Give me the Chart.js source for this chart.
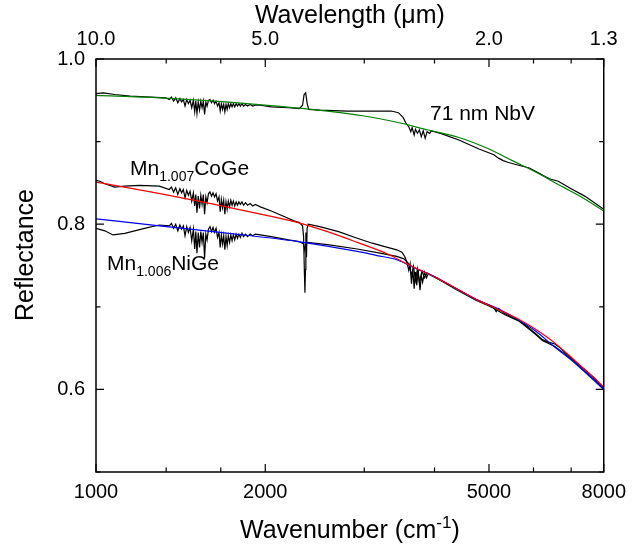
<!DOCTYPE html>
<html>
<head>
<meta charset="utf-8">
<script src="https://cdn.jsdelivr.net/npm/chart.js@4.4.1/dist/chart.umd.min.js"></script>
<style>
  body { margin: 0; background: #fff; }
  #wrap { width: 634px; height: 550px; }
</style>
</head>
<body>
<div id="wrap"><canvas id="chart"></canvas></div>
<script>
const FONT = '"Liberation Sans", Arial, sans-serif';

// axis ticks (wavenumber, cm-1) and reflectance ticks
const wnMajor = [1000, 2000, 5000, 8000];
const wnMinor = [1333, 1667, 3000, 4000, 6000, 7000];
const rMajor = [0.6, 0.8, 1.0];
const rMinor = [0.5, 0.7, 0.9];

// absorption band region shared by the three spectra
const noiseWn = [1350, 1362, 1374, 1386, 1398, 1410, 1420, 1430, 1440, 1450,
  1460, 1470, 1480, 1490, 1498, 1505, 1512, 1520, 1528, 1536,
  1544, 1552, 1560, 1568, 1576, 1585, 1595, 1605, 1615, 1625,
  1635, 1645, 1655, 1663, 1671, 1679, 1687, 1695, 1703, 1711,
  1719, 1728, 1737, 1746, 1755, 1765, 1775, 1785, 1795, 1806,
  1818, 1830, 1845, 1860, 1880, 1900, 1920, 1960];

// 71 nm NbV film: measured spectrum and fit
const nbvHeadWn = [1000, 1030, 1080, 1150, 1250, 1330];
const nbvHeadR = [0.958, 0.959, 0.957, 0.955, 0.954, 0.953];
const nbvNoiseR = [0.951, 0.954, 0.949, 0.953, 0.947, 0.952, 0.948, 0.951, 0.943, 0.951,
  0.946, 0.950, 0.941, 0.950, 0.936, 0.949, 0.934, 0.948, 0.938, 0.949,
  0.941, 0.949, 0.933, 0.948, 0.943, 0.950, 0.951, 0.947, 0.950, 0.946,
  0.949, 0.943, 0.947, 0.937, 0.946, 0.939, 0.945, 0.936, 0.945, 0.939,
  0.946, 0.941, 0.946, 0.942, 0.946, 0.942, 0.946, 0.943, 0.946, 0.943,
  0.946, 0.943, 0.945, 0.943, 0.945, 0.943, 0.944, 0.944];
const nbvTailWn = [2050, 2200, 2300, 2330, 2345, 2360, 2375, 2390,
  2500, 2800, 3100, 3350, 3450, 3520, 3560, 3600,
  3630, 3650, 3680, 3700, 3730, 3760, 3790, 3820, 3850, 3880,
  3920, 3950, 4100, 4420, 4800, 5100, 5200, 5300, 5400, 5600,
  5900, 6130, 6400, 6640, 7000, 7400, 7700, 8000];
const nbvTailR = [0.942, 0.941, 0.940, 0.944, 0.957, 0.959, 0.946, 0.939,
  0.938, 0.937, 0.937, 0.937, 0.935, 0.929, 0.922, 0.918,
  0.912, 0.917, 0.908, 0.915, 0.910, 0.914, 0.906, 0.913, 0.904, 0.912,
  0.910, 0.913, 0.910, 0.902, 0.891, 0.884, 0.880, 0.877, 0.875, 0.872,
  0.868, 0.862, 0.855, 0.852, 0.843, 0.834, 0.826, 0.818];
const nbvFitWn = [1000, 1300, 1700, 2100, 2580, 3000, 3400, 3900, 4420, 5000, 5500, 6100, 6640, 7300, 8000];
const nbvFitR = [0.956, 0.953, 0.948, 0.943, 0.937, 0.931, 0.924, 0.914, 0.905, 0.891, 0.877, 0.862, 0.848, 0.833, 0.816];

// Mn1.007CoGe: measured spectrum and fit
const cogeHeadWn = [1000, 1016, 1037, 1080, 1125, 1195, 1296];
const cogeHeadR = [0.853, 0.852, 0.849, 0.845, 0.846, 0.847, 0.846];
const cogeNoiseR = [0.842, 0.845, 0.839, 0.844, 0.836, 0.843, 0.838, 0.842, 0.832, 0.841,
  0.835, 0.840, 0.828, 0.838, 0.822, 0.836, 0.814, 0.834, 0.819, 0.835,
  0.824, 0.836, 0.812, 0.833, 0.826, 0.837, 0.839, 0.834, 0.838, 0.833,
  0.837, 0.828, 0.833, 0.815, 0.830, 0.820, 0.829, 0.812, 0.827, 0.818,
  0.828, 0.821, 0.829, 0.823, 0.828, 0.822, 0.827, 0.823, 0.827, 0.824,
  0.827, 0.823, 0.826, 0.823, 0.825, 0.822, 0.824, 0.821];
const cogeTailWn = [2050, 2150, 2250, 2300, 2330, 2340, 2348, 2353, 2358, 2362,
  2368, 2374, 2385, 2500, 2700, 2915, 3100, 3300, 3427, 3500,
  3540, 3570, 3600, 3620, 3640, 3660, 3680, 3700, 3720, 3740,
  3770, 3790, 3810, 3840, 3870, 3900, 3950, 4030, 4370, 4738,
  5000, 5100, 5150, 5200, 5300, 5400, 5647, 5800, 6041, 6230,
  6400, 6550, 6700, 6821, 7100, 7400, 7700, 8000];
const cogeTailR = [0.816, 0.810, 0.804, 0.802, 0.798, 0.785, 0.740, 0.717, 0.745, 0.790,
  0.760, 0.795, 0.800, 0.797, 0.791, 0.783, 0.777, 0.772, 0.769, 0.766,
  0.761, 0.755, 0.744, 0.752, 0.728, 0.746, 0.722, 0.742, 0.726, 0.745,
  0.720, 0.738, 0.730, 0.742, 0.735, 0.740, 0.738, 0.735, 0.722, 0.709,
  0.702, 0.699, 0.694, 0.698, 0.693, 0.690, 0.683, 0.678, 0.668, 0.660,
  0.657, 0.655, 0.650, 0.645, 0.634, 0.624, 0.614, 0.602];
const cogeFitWn = [1000, 1300, 1600, 2000, 2286, 2580, 2915, 3300, 3570, 4030, 4370, 4738, 5138, 5647, 6041, 6550, 7103, 8000];
const cogeFitR = [0.851, 0.837, 0.825, 0.811, 0.802, 0.791, 0.778, 0.764, 0.752, 0.735, 0.722, 0.709, 0.698, 0.685, 0.673, 0.656, 0.635, 0.603];

// Mn1.006NiGe: measured spectrum and fit
const nigeHeadWn = [1000, 1037, 1072, 1125, 1220, 1296];
const nigeHeadR = [0.795, 0.792, 0.787, 0.789, 0.795, 0.799];
const nigeNoiseR = [0.798, 0.801, 0.795, 0.800, 0.792, 0.799, 0.794, 0.798, 0.786, 0.797,
  0.790, 0.796, 0.780, 0.794, 0.770, 0.791, 0.765, 0.790, 0.772, 0.791,
  0.778, 0.790, 0.759, 0.788, 0.781, 0.794, 0.797, 0.791, 0.796, 0.790,
  0.795, 0.784, 0.790, 0.772, 0.787, 0.776, 0.786, 0.769, 0.785, 0.774,
  0.786, 0.778, 0.787, 0.780, 0.787, 0.781, 0.788, 0.783, 0.788, 0.784,
  0.789, 0.785, 0.788, 0.785, 0.788, 0.786, 0.788, 0.787];
const nigeTailWn = [2050, 2200, 2300, 2340, 2352, 2360, 2380,
  2600, 2915, 3200, 3427, 3530, 3600,
  3640, 3670, 3700, 3730, 3760, 3800, 3840, 3880, 3950, 4030,
  4370, 4738, 5000, 5138, 5250, 5350, 5647,
  6041, 6230, 6550, 6821, 7100, 7400, 7700, 8000];
const nigeTailR = [0.785, 0.781, 0.779, 0.776, 0.768, 0.776, 0.778,
  0.775, 0.770, 0.765, 0.761, 0.758, 0.752,
  0.738, 0.749, 0.732, 0.746, 0.730, 0.743, 0.735, 0.741, 0.738, 0.735,
  0.721, 0.708, 0.701, 0.697, 0.693, 0.690, 0.683,
  0.667, 0.659, 0.652, 0.643, 0.633, 0.622, 0.612, 0.600];
const nigeFitWn = [1000, 1296, 1721, 2286, 2915, 3161, 3427, 3716, 4030, 4370, 4738, 5138, 5647, 6041, 6550, 7103, 8000];
const nigeFitR = [0.8065, 0.798, 0.789, 0.779, 0.767, 0.762, 0.757, 0.746, 0.7355, 0.722, 0.709, 0.699, 0.684, 0.671, 0.651, 0.632, 0.600];

const pts = (xs, ys) => xs.map((x, i) => ({ x: x, y: ys[i] }));

function dataLine(xs, ys) {
  return { data: pts(xs, ys), borderColor: '#000', borderWidth: 1.2, order: 2 };
}
function fitLine(xs, ys, color) {
  return { data: pts(xs, ys), borderColor: color, borderWidth: 1.2, cubicInterpolationMode: 'monotone', order: 1 };
}

// text with sub/superscript pieces: parts = [[text, 'sub'|'sup'|null], ...]
function richText(ctx, parts, x, y, size, align) {
  const small = Math.round(size * 0.68);
  const widths = parts.map(([t, k]) => {
    ctx.font = (k ? small : size) + 'px ' + FONT;
    return ctx.measureText(t).width;
  });
  const total = widths.reduce((a, b) => a + b, 0);
  let cx = align === 'center' ? x - total / 2 : x;
  ctx.textAlign = 'left';
  ctx.textBaseline = 'alphabetic';
  parts.forEach(([t, k], i) => {
    ctx.font = (k ? small : size) + 'px ' + FONT;
    const dy = k === 'sub' ? size * 0.3 : k === 'sup' ? -size * 0.42 : 0;
    ctx.fillText(t, cx, y + dy);
    cx += widths[i];
  });
}

const frame = {
  id: 'frame',
  afterDraw(chart) {
    const { ctx, chartArea: a, scales } = chart;
    ctx.save();
    ctx.strokeStyle = '#000';
    ctx.lineWidth = 1.5;
    ctx.strokeRect(a.left, a.top, a.right - a.left, a.bottom - a.top);

    ctx.lineWidth = 1.2;
    ctx.beginPath();
    const xt = wnMajor.map(v => [v, 8]).concat(wnMinor.map(v => [v, 4.5]));
    xt.forEach(([v, len]) => {
      const px = scales.x.getPixelForValue(v);
      ctx.moveTo(px, a.bottom); ctx.lineTo(px, a.bottom - len);
      ctx.moveTo(px, a.top); ctx.lineTo(px, a.top + len);
    });
    const yt = rMajor.map(v => [v, 8]).concat(rMinor.map(v => [v, 4.5]));
    yt.forEach(([v, len]) => {
      const py = scales.y.getPixelForValue(v);
      ctx.moveTo(a.left, py); ctx.lineTo(a.left + len, py);
      ctx.moveTo(a.right, py); ctx.lineTo(a.right - len, py);
    });
    ctx.stroke();

    // axis titles
    ctx.fillStyle = '#000';
    const mid = (a.left + a.right) / 2;
    richText(ctx, [['Wavenumber (cm', null], ['-1', 'sup'], [')', null]], mid, 538, 25, 'center');
    richText(ctx, [['Wavelength (\u03bcm)', null]], mid, 23, 25, 'center');
    ctx.save();
    ctx.translate(33, 255);
    ctx.rotate(-Math.PI / 2);
    richText(ctx, [['Reflectance', null]], 0, 0, 25, 'center');
    ctx.restore();

    // sample labels
    richText(ctx, [['71 nm NbV', null]], 430, 120, 21, 'left');
    richText(ctx, [['Mn', null], ['1.007', 'sub'], ['CoGe', null]], 130, 175, 21, 'left');
    richText(ctx, [['Mn', null], ['1.006', 'sub'], ['NiGe', null]], 107, 270, 21, 'left');
    ctx.restore();
  }
};

const wnTicks = wnMajor.concat(wnMinor).sort((a, b) => a - b);
const tickFont = { family: FONT, size: 20 };

new Chart(document.getElementById('chart'), {
  type: 'scatter',
  data: {
    datasets: [
      dataLine(nbvHeadWn.concat(noiseWn, nbvTailWn), nbvHeadR.concat(nbvNoiseR, nbvTailR)),
      dataLine(cogeHeadWn.concat(noiseWn, cogeTailWn), cogeHeadR.concat(cogeNoiseR, cogeTailR)),
      dataLine(nigeHeadWn.concat(noiseWn, nigeTailWn), nigeHeadR.concat(nigeNoiseR, nigeTailR)),
      fitLine(nbvFitWn, nbvFitR, '#008000'),
      fitLine(cogeFitWn, cogeFitR, '#ff0000'),
      fitLine(nigeFitWn, nigeFitR, '#0000ff')
    ]
  },
  options: {
    responsive: true,
    maintainAspectRatio: false,
    animation: false,
    devicePixelRatio: 1,
    showLine: true,
    elements: { point: { radius: 0 }, line: { tension: 0 } },
    layout: { padding: 0 },
    plugins: { legend: { display: false }, tooltip: { enabled: false } },
    scales: {
      x: {
        type: 'logarithmic', position: 'bottom', min: 1000, max: 8000,
        grid: { display: false, drawTicks: false }, border: { display: false },
        afterBuildTicks: s => { s.ticks = wnTicks.map(v => ({ value: v })); },
        afterFit: s => { s.height = 78; },
        ticks: {
          color: '#000', font: tickFont, padding: 8, autoSkip: false, maxRotation: 0,
          callback: v => wnMajor.includes(v) ? String(v) : ''
        }
      },
      x2: {
        type: 'logarithmic', position: 'top', min: 1000, max: 8000,
        grid: { display: false, drawTicks: false }, border: { display: false },
        afterBuildTicks: s => { s.ticks = wnTicks.map(v => ({ value: v })); },
        afterFit: s => { s.height = 59; },
        ticks: {
          color: '#000', font: tickFont, padding: 8, autoSkip: false, maxRotation: 0,
          callback: v => wnMajor.includes(v) ? (1e4 / v).toFixed(1) : ''
        }
      },
      y: {
        type: 'linear', position: 'left', min: 0.5, max: 1.0,
        grid: { display: false, drawTicks: false }, border: { display: false },
        afterBuildTicks: s => { s.ticks = rMinor.concat(rMajor).sort().map(v => ({ value: v })); },
        afterFit: s => { s.width = 96; },
        ticks: {
          color: '#000', font: tickFont, padding: 11,
          callback: v => rMajor.includes(v) ? v.toFixed(1) : ''
        }
      },
      y2: {
        type: 'linear', position: 'right', min: 0.5, max: 1.0,
        grid: { display: false, drawTicks: false }, border: { display: false },
        afterFit: s => { s.width = 25; },
        ticks: { display: false }
      }
    }
  },
  plugins: [frame]
});
</script>
</body>
</html>
